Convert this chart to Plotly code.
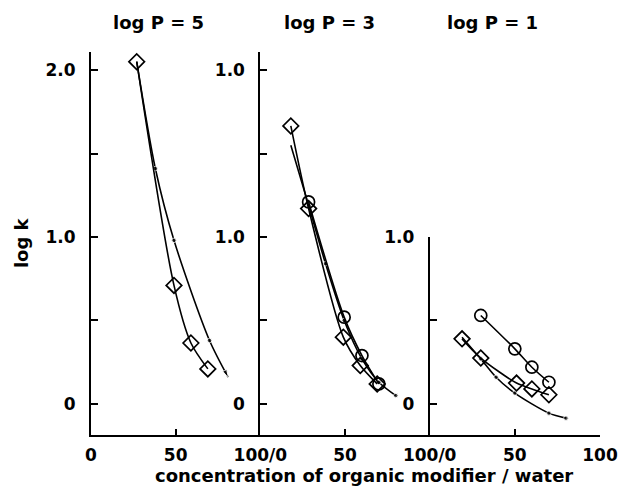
import plotly.graph_objects as go

# ---- data ----
# panel 1: log P = 5
p1_dia_x = [27, 49, 59, 69]
p1_dia_y = [2.05, 0.71, 0.365, 0.21]
p1_dot_x = [27, 38, 49, 70, 81]
p1_dot_y = [2.05, 1.41, 0.98, 0.38, 0.16]

# panel 2: log P = 3
p2_dia_x = [18, 28.5, 49, 59, 69]
p2_dia_y = [1.665, 1.17, 0.40, 0.23, 0.12]
p2_cir_x = [28.5, 49.5, 60, 70]
p2_cir_y = [1.21, 0.52, 0.29, 0.12]
p2_dot_x = [18, 28.5, 38.5, 49.5, 60, 70, 80]
p2_dot_y = [1.55, 1.19, 0.84, 0.50, 0.27, 0.13, 0.05]

# panel 3: log P = 1
p3_cir_x = [30, 50, 60, 70]
p3_cir_y = [0.53, 0.33, 0.22, 0.13]
p3_dia_x = [19, 30, 51, 60, 70]
p3_dia_y = [0.39, 0.275, 0.125, 0.09, 0.055]
p3_dot_x = [19, 30, 39, 50, 70, 80]
p3_dot_y = [0.40, 0.27, 0.16, 0.065, -0.055, -0.085]

panel_titles = ["log P = 5", "log P = 3", "log P = 1"]
y_ticks_full = [0, 0.5, 1.0, 1.5, 2.0]
y_text_p1 = ["0", "", "1.0", "", "2.0"]
y_text_p2 = ["0", "", "1.0", "", "1.0"]
y_ticks_p3 = [0, 0.5, 1.0]
y_text_p3 = ["0", "", "1.0"]

FONT = "DejaVu Sans, Liberation Sans, sans-serif"
LW = 1.6

fig = go.Figure()


def add_line(x, y, xa, ya, kind, arrow_end=False):
    if kind == "diamond":
        marker = dict(symbol="diamond-open", size=12, color="black", line=dict(width=1.7, color="black"))
    elif kind == "circle":
        marker = dict(symbol="circle-open", size=12, color="black", line=dict(width=1.7, color="black"))
    else:
        syms = ["circle"] * len(x)
        sizes = [4.5] * len(x)
        if arrow_end:
            syms[-1] = "arrow"
            sizes[-1] = 8
        marker = dict(symbol=syms, size=sizes, color="black", angleref="previous")
    fig.add_trace(go.Scatter(
        x=x, y=y, xaxis=xa, yaxis=ya, mode="lines+markers",
        line=dict(color="black", width=LW, shape="spline", smoothing=0.8),
        marker=marker, showlegend=False, cliponaxis=False))


add_line(p1_dot_x, p1_dot_y, "x", "y", "dot", arrow_end=True)
add_line(p1_dia_x, p1_dia_y, "x", "y", "diamond")

add_line(p2_dot_x, p2_dot_y, "x2", "y2", "dot")
add_line(p2_dia_x, p2_dia_y, "x2", "y2", "diamond")
add_line(p2_cir_x, p2_cir_y, "x2", "y2", "circle")

add_line(p3_dot_x, p3_dot_y, "x3", "y3", "dot")
add_line(p3_dia_x, p3_dia_y, "x3", "y3", "diamond")
add_line(p3_cir_x, p3_cir_y, "x3", "y3", "circle")

# plot area (page pixels, page has an 8px body offset)
PL, PR, PT, PB = 91, 608, 52, 435
OFF = 8
W, H = 631, 491
PW, PH = PR - PL, PB - PT

d1 = (263 - PL) / PW
d2 = (435 - PL) / PW
yr = [-0.186, 2.108]

TICKFONT = dict(size=17, family=FONT, color="black", weight="bold")
xcommon = dict(range=[0, 100], showline=True, linecolor="black", linewidth=2,
               ticks="inside", ticklen=6, tickwidth=1.5, tickcolor="black",
               showgrid=False, zeroline=False, mirror=False,
               tickfont=TICKFONT, ticklabelstandoff=4)
ycommon = dict(showline=True, linecolor="black", linewidth=2,
               ticks="inside", ticklen=7, tickwidth=1.5, tickcolor="black",
               showgrid=False, zeroline=False,
               tickfont=TICKFONT, ticklabelstandoff=10)

fig.update_layout(
    width=W, height=H,
    margin=dict(l=PL - OFF, r=W - (PR - OFF), t=PT - OFF, b=H - (PB - OFF)),
    paper_bgcolor="white", plot_bgcolor="white",
    font=dict(family=FONT, color="black", size=17, weight="bold"),
    xaxis=dict(domain=[0, d1], anchor="y", tickvals=[0, 50, 100],
               ticktext=["0", "50", "100/0"], **xcommon),
    xaxis2=dict(domain=[d1, d2], anchor="y2", tickvals=[50, 100],
                ticktext=["50", "100/0"], **xcommon),
    xaxis3=dict(domain=[d2, 1], anchor="y3", tickvals=[50, 100],
                ticktext=["50", "100"], **xcommon),
    yaxis=dict(domain=[0, 1], anchor="x", range=yr, tickvals=y_ticks_full,
               ticktext=y_text_p1, **ycommon),
    yaxis2=dict(domain=[0, 1], anchor="x2", range=yr, tickvals=y_ticks_full,
                ticktext=y_text_p2, **ycommon),
    yaxis3=dict(domain=[0, (PB - 237) / PH], anchor="x3", range=[-0.186, 1.0],
                tickvals=y_ticks_p3, ticktext=y_text_p3, **ycommon),
)


def px2paper(px, py):
    return (px - PL) / PW, (PB - py) / PH


# panel titles
for t, px in zip(panel_titles, [160, 333, 499]):
    xx, yy = px2paper(px, 22)
    fig.add_annotation(text=t, xref="paper", yref="paper", x=xx, y=yy,
                       xanchor="center", yanchor="middle", showarrow=False,
                       font=dict(size=18, family=FONT, color="black", weight="bold"))

# axis titles
xx, yy = px2paper(368, 475)
fig.add_annotation(text="concentration of organic modifier / water", xref="paper", yref="paper",
                   x=xx, y=yy, xanchor="center", yanchor="middle", showarrow=False,
                   font=dict(size=18, family=FONT, color="black", weight="bold"))
xx, yy = px2paper(20, 243)
fig.add_annotation(text="log k", xref="paper", yref="paper", x=xx, y=yy,
                   xanchor="center", yanchor="middle", textangle=-90, showarrow=False,
                   font=dict(size=18, family=FONT, color="black", weight="bold"))

fig.write_html("out.html")
